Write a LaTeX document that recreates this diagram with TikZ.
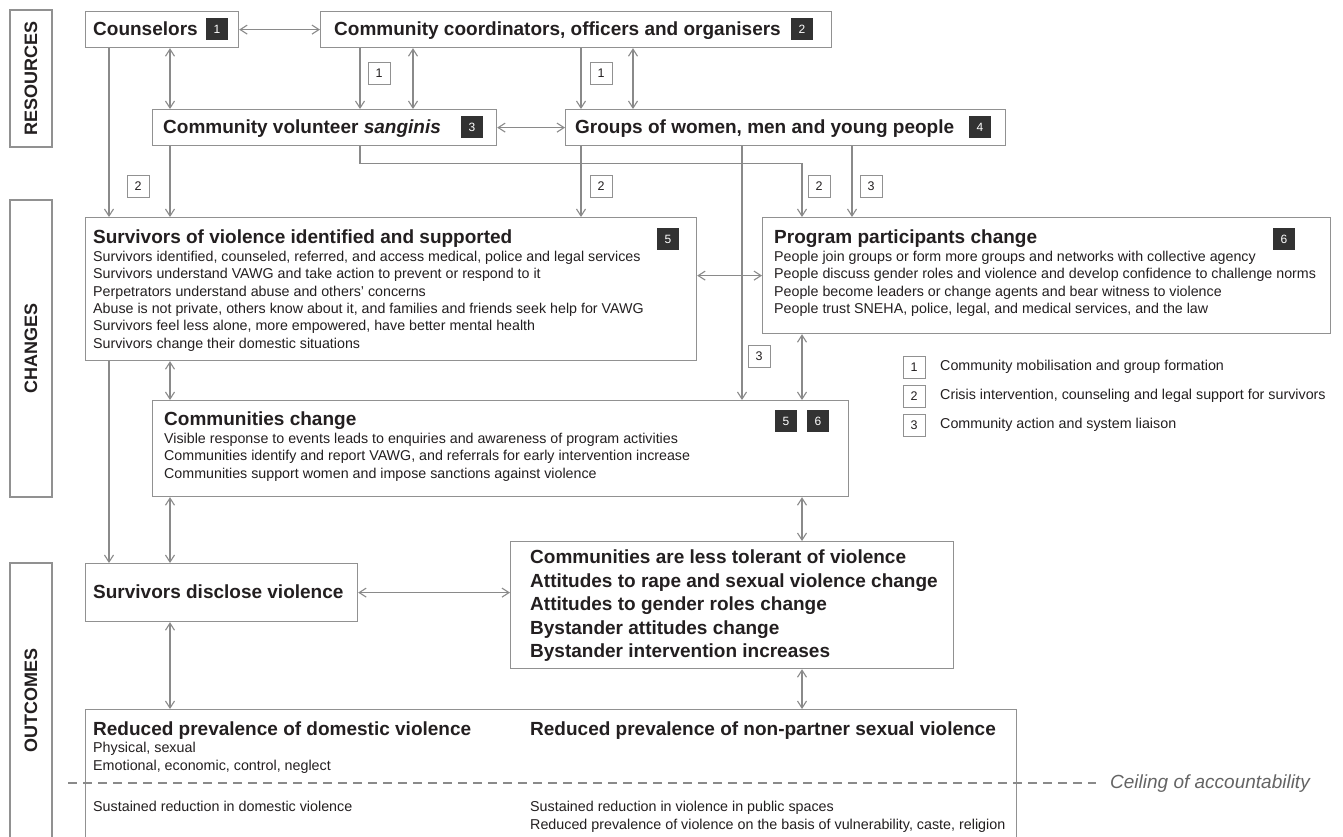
\documentclass[tikz,border=0pt]{standalone}
\usepackage{fontspec}
\setmainfont{Liberation Sans}
\usetikzlibrary{arrows.meta}
\usetikzlibrary{calc}

\definecolor{linegray}{RGB}{138,138,138}
\definecolor{boxgray}{RGB}{145,145,145}
\definecolor{badgegray}{RGB}{50,50,50}
\definecolor{inkblack}{RGB}{35,31,32}
\definecolor{notegray}{RGB}{100,100,100}

\newcommand{\hdfont}{\fontsize{19}{23.5}\selectfont\bfseries}
\newcommand{\txtfont}{\fontsize{14.25}{17.4}\selectfont}

\tikzset{
  box/.style={draw=boxgray, line width=1.2pt, fill=white, anchor=north west, inner sep=0pt},
  sect/.style={draw=boxgray, line width=1.2pt, rotate=90, minimum height=42pt, inner sep=0pt,
    font=\fontsize{18}{18}\selectfont\bfseries},
  badge/.style={fill=badgegray, text=white, minimum size=22pt, inner sep=0pt,
    font=\fontsize{12}{12}\selectfont},
  lab/.style={draw=boxgray, line width=1pt, fill=white, minimum size=22pt, inner sep=0pt,
    font=\fontsize{12.5}{12.5}\selectfont},
  hd/.style={font=\hdfont, anchor=base west, inner sep=0pt},
  txt/.style={font=\txtfont, anchor=north west, align=left, inner sep=0pt},
  key/.style={font=\fontsize{14.3}{14.3}\selectfont, anchor=west, inner sep=0pt},
  arr/.style={draw=linegray, line width=1.1pt, ->},
  darr/.style={draw=linegray, line width=1.1pt, <->},
}

\begin{document}
\begin{tikzpicture}[x=1pt, y=-1pt, >={Straight Barb[length=7pt,width=9pt]}, text=inkblack]
\useasboundingbox (0,0) rectangle (1343,836);

% columns for the vertical links
\coordinate (xa) at (109,0);
\coordinate (xb) at (170,0);
\coordinate (xc) at (360,0);
\coordinate (xd) at (413,0);
\coordinate (xe) at (581,0);
\coordinate (xf) at (633,0);
\coordinate (xg) at (742,0);
\coordinate (xh) at (802,0);
\coordinate (xi) at (852,0);

% section labels
\node[sect, minimum width=137pt] (res) at (31,78.5) {RESOURCES};
\node[sect, minimum width=297pt] (chg) at (31,348.5) {CHANGES};
\node[sect, minimum width=275pt] (outc) at (31,700.5) {OUTCOMES};

% resources
\node[box, minimum width=153pt, minimum height=36pt] (couns) at (85,11) {};
\node[hd] (counst) at (93,35.8) {Counselors};
\node[badge] (b1) at (217,29) {1};

\node[box, minimum width=511pt, minimum height=36pt] (coord) at (320,11) {};
\node[hd] (coordt) at (334,35.8) {Community coordinators, officers and organisers};
\node[badge] (b2) at (802,29) {2};

\node[box, minimum width=344pt, minimum height=36pt] (sang) at (152,109) {};
\node[hd] (sangt) at (163,133.8) {Community volunteer \textit{sanginis}};
\node[badge] (b3) at (472,127) {3};

\node[box, minimum width=440pt, minimum height=36pt] (groups) at (565,109) {};
\node[hd] (groupst) at (575,133.8) {Groups of women, men and young people};
\node[badge] (b4) at (980,127) {4};

% changes
\node[box, minimum width=611pt, minimum height=143pt] (surv) at (85,217) {};
\node[hd] (survt) at (93,243.8) {Survivors of violence identified and supported};
\node[badge] (b5) at (668,239) {5};
\node[txt] (survx) at (93,250.8) {Survivors identified, counseled, referred, and access medical, police and legal services\\
  Survivors understand VAWG and take action to prevent or respond to it\\
  Perpetrators understand abuse and others’ concerns\\
  Abuse is not private, others know about it, and families and friends seek help for VAWG\\
  Survivors feel less alone, more empowered, have better mental health\\
  Survivors change their domestic situations};

\node[box, minimum width=568pt, minimum height=116pt] (prog) at (762,217) {};
\node[hd] (progt) at (774,243.8) {Program participants change};
\node[badge] (b6) at (1284,239) {6};
\node[txt] (progx) at (774,250.8) {People join groups or form more groups and networks with collective agency\\
  People discuss gender roles and violence and develop confidence to challenge norms\\
  People become leaders or change agents and bear witness to violence\\
  People trust SNEHA, police, legal, and medical services, and the law};

\node[box, minimum width=696pt, minimum height=96pt] (comm) at (152,400) {};
\node[hd] (commt) at (164,425.8) {Communities change};
\node[badge] (b7) at (786,421) {5};
\node[badge] (b8) at (818,421) {6};
\node[txt] (commx) at (164,432.8) {Visible response to events leads to enquiries and awareness of program activities\\
  Communities identify and report VAWG, and referrals for early intervention increase\\
  Communities support women and impose sanctions against violence};

% outcomes
\node[box, minimum width=272pt, minimum height=58pt] (disc) at (85,563) {};
\node[hd] (disct) at (93,598.8) {Survivors disclose violence};

\node[box, minimum width=443pt, minimum height=127pt] (toler) at (510,541) {};
\node[txt, font=\hdfont] (tolerx) at (530,550) {Communities are less tolerant of violence\\
  Attitudes to rape and sexual violence change\\
  Attitudes to gender roles change\\
  Bystander attitudes change\\
  Bystander intervention increases};

\node[box, minimum width=931pt, minimum height=135pt] (reduc) at (85,709) {};
\node[hd] (reduct) at (93,735.8) {Reduced prevalence of domestic violence};
\node[hd] (reductb) at (530,735.8) {Reduced prevalence of non-partner sexual violence};
\node[txt, font=\fontsize{14.3}{18}\selectfont] (reducx) at (93,741.8) {Physical, sexual\\Emotional, economic, control, neglect};
\node[txt, font=\fontsize{14.3}{18}\selectfont] (reducy) at (93,800.8) {Sustained reduction in domestic violence};
\node[txt, font=\fontsize{14.3}{18}\selectfont] (reducz) at (530,800.8) {Sustained reduction in violence in public spaces\\
  Reduced prevalence of violence on the basis of vulnerability, caste, religion};

% ceiling
\coordinate (ceilL) at (68,783);
\node[anchor=west, inner sep=0pt, text=notegray, font=\fontsize{19}{19}\selectfont\itshape] (ceil) at (1110,784) {Ceiling of accountability};
\draw[linegray, line width=1.1pt, dash pattern=on 9pt off 6pt] (ceilL) -- ($(ceil.west)+(-14,-1)$);

% links between resources
\draw[darr] (couns) -- (coord);
\draw[darr] (sang) -- (groups);
\draw[darr] (couns.south -| xb) -- (sang.north -| xb);
\draw[arr] (coord.south -| xc) -- (sang.north -| xc);
\draw[darr] (coord.south -| xd) -- (sang.north -| xd);
\draw[arr] (coord.south -| xe) -- (groups.north -| xe);
\draw[darr] (coord.south -| xf) -- (groups.north -| xf);

% resources to changes
\draw[arr] (couns.south -| xa) -- (surv.north -| xa);
\draw[arr] (sang.south -| xb) -- (surv.north -| xb);
\draw[arr] (sang.south -| xc) -- ++(0,17) -| (prog.north -| xh);
\draw[arr] (groups.south -| xe) -- (surv.north -| xe);
\draw[arr] (groups.south -| xg) -- (comm.north -| xg);
\draw[arr] (groups.south -| xi) -- (prog.north -| xi);

% changes
\draw[darr] (surv.east |- prog.west) -- (prog.west);
\draw[darr] (surv.south -| xb) -- (comm.north -| xb);
\draw[darr] (prog.south -| xh) -- (comm.north -| xh);

% changes to outcomes
\draw[arr] (surv.south -| xa) -- (disc.north -| xa);
\draw[darr] (comm.south -| xb) -- (disc.north -| xb);
\draw[darr] (comm.south -| xh) -- (toler.north -| xh);
\draw[darr] (disc.east) -- (toler.west |- disc.east);
\draw[darr] (disc.south -| xb) -- (reduc.north -| xb);
\draw[darr] (toler.south -| xh) -- (reduc.north -| xh);

% strategy labels
\node[lab] (l1a) at (379,73) {1};
\node[lab] (l1b) at (601,73) {1};
\node[lab] (l2a) at (138,186) {2};
\node[lab] (l2b) at (601,186) {2};
\node[lab] (l2c) at (819,186) {2};
\node[lab] (l3a) at (871,186) {3};
\node[lab] (l3b) at (759,356) {3};

% key
\node[lab] (k1) at (914,367) {1};
\node[lab] (k2) at (914,396) {2};
\node[lab] (k3) at (914,425) {3};
\node[key] (k1t) at (940,367) {Community mobilisation and group formation};
\node[key] (k2t) at (940,396) {Crisis intervention, counseling and legal support for survivors};
\node[key] (k3t) at (940,425) {Community action and system liaison};
\end{tikzpicture}
\end{document}
